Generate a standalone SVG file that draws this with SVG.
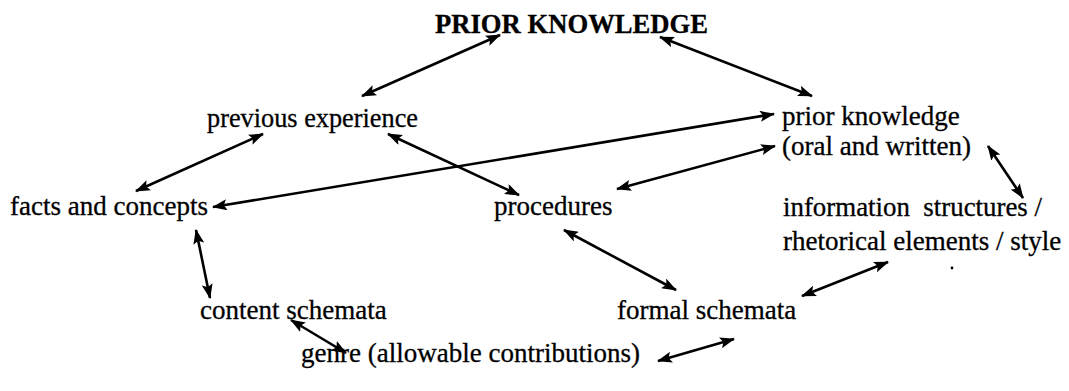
<svg xmlns="http://www.w3.org/2000/svg" width="1069" height="391" viewBox="0 0 1069 391">
<style>
text{font-family:"Liberation Serif","Times New Roman",serif;font-size:27px;fill:#000;stroke:#000;stroke-width:0.3}
.title{font-weight:bold;font-size:27px}
.c line{stroke:#000;stroke-width:2.6;marker-start:url(#ah);marker-end:url(#ah)}
</style>
<defs>
<marker id="ah" viewBox="0 0 15 11" refX="14" refY="5.5" markerWidth="15" markerHeight="11" markerUnits="userSpaceOnUse" orient="auto-start-reverse">
<path d="M0,0 L15,5.5 L0,11 L3,5.5 z" fill="#000"/>
</marker>
</defs>
<rect width="1069" height="391" fill="#fff"/>
<g id="n-title"><text class="title" x="435" y="33" textLength="273" lengthAdjust="spacingAndGlyphs">PRIOR KNOWLEDGE</text></g>
<g id="n-prev"><text x="207" y="127" textLength="211" lengthAdjust="spacingAndGlyphs">previous experience</text></g>
<g id="n-prior"><text x="782" y="125">prior knowledge</text><text x="782" y="155">(oral and written)</text></g>
<g id="n-facts"><text x="10" y="215">facts and concepts</text></g>
<g id="n-proc"><text x="494" y="215">procedures</text></g>
<g id="n-info"><text x="783" y="216" xml:space="preserve" textLength="259" lengthAdjust="spacingAndGlyphs">information  structures /</text><text x="783" y="250">rhetorical elements / style</text></g>
<g id="n-content"><text x="200" y="319">content schemata</text></g>
<g id="n-formal"><text x="617" y="319">formal schemata</text></g>
<g id="n-genre"><text x="301" y="362">genre (allowable contributions)</text></g>
<circle cx="952" cy="268" r="1.4" fill="#000"/>
<g class="c" id="connectors">
<line x1="500" y1="35" x2="362" y2="96"/>
<line x1="660" y1="37" x2="812" y2="96"/>
<line x1="263" y1="134" x2="136" y2="191"/>
<line x1="388" y1="134" x2="519" y2="195"/>
<line x1="213" y1="207" x2="774" y2="114"/>
<line x1="617" y1="189" x2="775" y2="146"/>
<line x1="988" y1="146" x2="1023" y2="198"/>
<line x1="196" y1="230" x2="210" y2="298"/>
<line x1="564" y1="230" x2="676" y2="290"/>
<line x1="802" y1="296" x2="888" y2="262"/>
<line x1="291" y1="320" x2="346" y2="353"/>
<line x1="658" y1="361" x2="734" y2="339"/>
</g>
</svg>
